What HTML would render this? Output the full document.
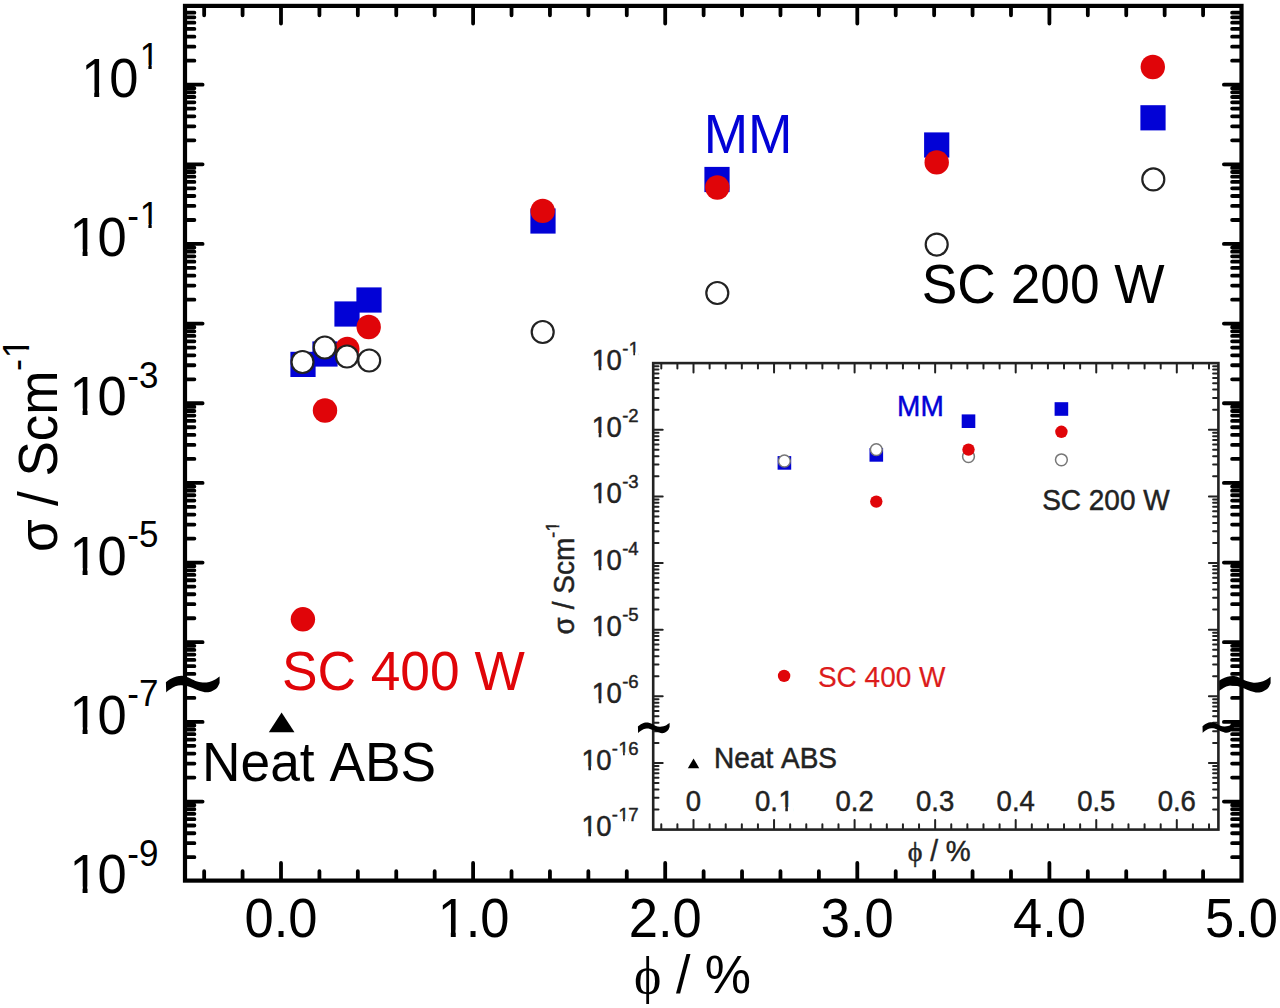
<!DOCTYPE html>
<html><head><meta charset="utf-8"><style>
html,body{margin:0;padding:0;background:#fff;}
body{width:1280px;height:1008px;overflow:hidden;}
svg{display:block;}
</style></head><body>
<svg width="1280" height="1008" viewBox="0 0 1280 1008">
<rect width="1280" height="1008" fill="#fff"/>
<rect x="185.0" y="5.9" width="1056.5" height="874.7" fill="none" stroke="#000" stroke-width="4.2"/>
<path d="M186.1,857.21H194.40M1240.4,857.21H1232.10M186.1,843.18H194.40M1240.4,843.18H1232.10M186.1,833.23H194.40M1240.4,833.23H1232.10M186.1,825.51H194.40M1240.4,825.51H1232.10M186.1,819.20H194.40M1240.4,819.20H1232.10M186.1,813.87H194.40M1240.4,813.87H1232.10M186.1,809.25H194.40M1240.4,809.25H1232.10M186.1,805.18H194.40M1240.4,805.18H1232.10M186.1,801.53H202.60M1240.4,801.53H1223.90M186.1,777.55H194.40M1240.4,777.55H1232.10M186.1,763.53H194.40M1240.4,763.53H1232.10M186.1,753.58H194.40M1240.4,753.58H1232.10M186.1,745.86H194.40M1240.4,745.86H1232.10M186.1,739.55H194.40M1240.4,739.55H1232.10M186.1,734.22H194.40M1240.4,734.22H1232.10M186.1,729.60H194.40M1240.4,729.60H1232.10M186.1,725.52H194.40M1240.4,725.52H1232.10M186.1,721.88H202.60M1240.4,721.88H1223.90M186.1,697.90H194.40M1240.4,697.90H1232.10M186.1,683.87H194.40M1240.4,683.87H1232.10M186.1,673.92H194.40M1240.4,673.92H1232.10M186.1,666.20H194.40M1240.4,666.20H1232.10M186.1,659.90H194.40M1240.4,659.90H1232.10M186.1,654.56H194.40M1240.4,654.56H1232.10M186.1,649.94H194.40M1240.4,649.94H1232.10M186.1,645.87H194.40M1240.4,645.87H1232.10M186.1,642.22H202.60M1240.4,642.22H1223.90M186.1,618.25H194.40M1240.4,618.25H1232.10M186.1,604.22H194.40M1240.4,604.22H1232.10M186.1,594.27H194.40M1240.4,594.27H1232.10M186.1,586.55H194.40M1240.4,586.55H1232.10M186.1,580.24H194.40M1240.4,580.24H1232.10M186.1,574.91H194.40M1240.4,574.91H1232.10M186.1,570.29H194.40M1240.4,570.29H1232.10M186.1,566.21H194.40M1240.4,566.21H1232.10M186.1,562.57H202.60M1240.4,562.57H1223.90M186.1,538.59H194.40M1240.4,538.59H1232.10M186.1,524.57H194.40M1240.4,524.57H1232.10M186.1,514.61H194.40M1240.4,514.61H1232.10M186.1,506.89H194.40M1240.4,506.89H1232.10M186.1,500.59H194.40M1240.4,500.59H1232.10M186.1,495.25H194.40M1240.4,495.25H1232.10M186.1,490.64H194.40M1240.4,490.64H1232.10M186.1,486.56H194.40M1240.4,486.56H1232.10M186.1,482.92H202.60M1240.4,482.92H1223.90M186.1,458.94H194.40M1240.4,458.94H1232.10M186.1,444.91H194.40M1240.4,444.91H1232.10M186.1,434.96H194.40M1240.4,434.96H1232.10M186.1,427.24H194.40M1240.4,427.24H1232.10M186.1,420.93H194.40M1240.4,420.93H1232.10M186.1,415.60H194.40M1240.4,415.60H1232.10M186.1,410.98H194.40M1240.4,410.98H1232.10M186.1,406.91H194.40M1240.4,406.91H1232.10M186.1,403.26H202.60M1240.4,403.26H1223.90M186.1,379.28H194.40M1240.4,379.28H1232.10M186.1,365.26H194.40M1240.4,365.26H1232.10M186.1,355.31H194.40M1240.4,355.31H1232.10M186.1,347.59H194.40M1240.4,347.59H1232.10M186.1,341.28H194.40M1240.4,341.28H1232.10M186.1,335.95H194.40M1240.4,335.95H1232.10M186.1,331.33H194.40M1240.4,331.33H1232.10M186.1,327.25H194.40M1240.4,327.25H1232.10M186.1,323.61H202.60M1240.4,323.61H1223.90M186.1,299.63H194.40M1240.4,299.63H1232.10M186.1,285.60H194.40M1240.4,285.60H1232.10M186.1,275.65H194.40M1240.4,275.65H1232.10M186.1,267.93H194.40M1240.4,267.93H1232.10M186.1,261.63H194.40M1240.4,261.63H1232.10M186.1,256.29H194.40M1240.4,256.29H1232.10M186.1,251.67H194.40M1240.4,251.67H1232.10M186.1,247.60H194.40M1240.4,247.60H1232.10M186.1,243.95H202.60M1240.4,243.95H1223.90M186.1,219.98H194.40M1240.4,219.98H1232.10M186.1,205.95H194.40M1240.4,205.95H1232.10M186.1,196.00H194.40M1240.4,196.00H1232.10M186.1,188.28H194.40M1240.4,188.28H1232.10M186.1,181.97H194.40M1240.4,181.97H1232.10M186.1,176.64H194.40M1240.4,176.64H1232.10M186.1,172.02H194.40M1240.4,172.02H1232.10M186.1,167.94H194.40M1240.4,167.94H1232.10M186.1,164.30H202.60M1240.4,164.30H1223.90M186.1,140.32H194.40M1240.4,140.32H1232.10M186.1,126.30H194.40M1240.4,126.30H1232.10M186.1,116.34H194.40M1240.4,116.34H1232.10M186.1,108.62H194.40M1240.4,108.62H1232.10M186.1,102.32H194.40M1240.4,102.32H1232.10M186.1,96.98H194.40M1240.4,96.98H1232.10M186.1,92.37H194.40M1240.4,92.37H1232.10M186.1,88.29H194.40M1240.4,88.29H1232.10M186.1,84.65H202.60M1240.4,84.65H1223.90M186.1,60.67H194.40M1240.4,60.67H1232.10M186.1,46.64H194.40M1240.4,46.64H1232.10M186.1,36.69H194.40M1240.4,36.69H1232.10M186.1,28.97H194.40M1240.4,28.97H1232.10M186.1,22.66H194.40M1240.4,22.66H1232.10M186.1,17.33H194.40M1240.4,17.33H1232.10M186.1,12.71H194.40M1240.4,12.71H1232.10M204.16,879.5V871.20M204.16,7.0V15.30M242.58,879.5V871.20M242.58,7.0V15.30M281.00,879.5V863.00M281.00,7.0V23.50M319.42,879.5V871.20M319.42,7.0V15.30M357.84,879.5V871.20M357.84,7.0V15.30M396.26,879.5V871.20M396.26,7.0V15.30M434.68,879.5V871.20M434.68,7.0V15.30M473.10,879.5V863.00M473.10,7.0V23.50M511.52,879.5V871.20M511.52,7.0V15.30M549.94,879.5V871.20M549.94,7.0V15.30M588.36,879.5V871.20M588.36,7.0V15.30M626.78,879.5V871.20M626.78,7.0V15.30M665.20,879.5V863.00M665.20,7.0V23.50M703.62,879.5V871.20M703.62,7.0V15.30M742.04,879.5V871.20M742.04,7.0V15.30M780.46,879.5V871.20M780.46,7.0V15.30M818.88,879.5V871.20M818.88,7.0V15.30M857.30,879.5V863.00M857.30,7.0V23.50M895.72,879.5V871.20M895.72,7.0V15.30M934.14,879.5V871.20M934.14,7.0V15.30M972.56,879.5V871.20M972.56,7.0V15.30M1010.98,879.5V871.20M1010.98,7.0V15.30M1049.40,879.5V863.00M1049.40,7.0V23.50M1087.82,879.5V871.20M1087.82,7.0V15.30M1126.24,879.5V871.20M1126.24,7.0V15.30M1164.66,879.5V871.20M1164.66,7.0V15.30M1203.08,879.5V871.20M1203.08,7.0V15.30" stroke="#000" stroke-width="3.8" stroke-linecap="round" fill="none"/>
<g fill="#000" transform="translate(158.40,96.65)"><text xml:space="preserve" transform="translate(0,0.00) scale(1,1.04)" font-family="&quot;Liberation Sans&quot;, sans-serif" font-size="52.5" x="-77.21 -49.16" y="0">10</text><path d="M60,-150H509V250H60ZM702,-150H1120V250H702Z" fill="#fff" stroke="none" transform="translate(-77.21,0.00) scale(0.02563,-0.02666)"/><text xml:space="preserve" transform="translate(0,-27.50) scale(1,1.04)" font-family="&quot;Liberation Sans&quot;, sans-serif" font-size="35" x="-18.70" y="0">1</text><path d="M60,-150H509V250H60ZM702,-150H1120V250H702Z" fill="#fff" stroke="none" transform="translate(-18.70,-27.50) scale(0.01709,-0.01777)"/></g>
<g fill="#000" transform="translate(158.40,255.95)"><text xml:space="preserve" transform="translate(0,0.00) scale(1,1.04)" font-family="&quot;Liberation Sans&quot;, sans-serif" font-size="52.5" x="-88.86 -60.82" y="0">10</text><path d="M60,-150H509V250H60ZM702,-150H1120V250H702Z" fill="#fff" stroke="none" transform="translate(-88.86,0.00) scale(0.02563,-0.02666)"/><text xml:space="preserve" transform="translate(0,-27.50) scale(1,1.04)" font-family="&quot;Liberation Sans&quot;, sans-serif" font-size="35" x="-31.12 -18.70" y="0">-1</text><path d="M60,-150H509V250H60ZM702,-150H1120V250H702Z" fill="#fff" stroke="none" transform="translate(-18.70,-27.50) scale(0.01709,-0.01777)"/></g>
<g fill="#000" transform="translate(158.40,415.26)"><text xml:space="preserve" transform="translate(0,0.00) scale(1,1.04)" font-family="&quot;Liberation Sans&quot;, sans-serif" font-size="52.5" x="-88.86 -60.82" y="0">10</text><path d="M60,-150H509V250H60ZM702,-150H1120V250H702Z" fill="#fff" stroke="none" transform="translate(-88.86,0.00) scale(0.02563,-0.02666)"/><text xml:space="preserve" transform="translate(0,-27.50) scale(1,1.04)" font-family="&quot;Liberation Sans&quot;, sans-serif" font-size="35" x="-31.12 -19.47" y="0">-3</text></g>
<g fill="#000" transform="translate(158.40,574.57)"><text xml:space="preserve" transform="translate(0,0.00) scale(1,1.04)" font-family="&quot;Liberation Sans&quot;, sans-serif" font-size="52.5" x="-88.86 -60.82" y="0">10</text><path d="M60,-150H509V250H60ZM702,-150H1120V250H702Z" fill="#fff" stroke="none" transform="translate(-88.86,0.00) scale(0.02563,-0.02666)"/><text xml:space="preserve" transform="translate(0,-27.50) scale(1,1.04)" font-family="&quot;Liberation Sans&quot;, sans-serif" font-size="35" x="-31.12 -19.47" y="0">-5</text></g>
<g fill="#000" transform="translate(158.40,733.88)"><text xml:space="preserve" transform="translate(0,0.00) scale(1,1.04)" font-family="&quot;Liberation Sans&quot;, sans-serif" font-size="52.5" x="-88.86 -60.82" y="0">10</text><path d="M60,-150H509V250H60ZM702,-150H1120V250H702Z" fill="#fff" stroke="none" transform="translate(-88.86,0.00) scale(0.02563,-0.02666)"/><text xml:space="preserve" transform="translate(0,-27.50) scale(1,1.04)" font-family="&quot;Liberation Sans&quot;, sans-serif" font-size="35" x="-31.12 -19.47" y="0">-7</text></g>
<g fill="#000" transform="translate(158.40,893.19)"><text xml:space="preserve" transform="translate(0,0.00) scale(1,1.04)" font-family="&quot;Liberation Sans&quot;, sans-serif" font-size="52.5" x="-88.86 -60.82" y="0">10</text><path d="M60,-150H509V250H60ZM702,-150H1120V250H702Z" fill="#fff" stroke="none" transform="translate(-88.86,0.00) scale(0.02563,-0.02666)"/><text xml:space="preserve" transform="translate(0,-27.50) scale(1,1.04)" font-family="&quot;Liberation Sans&quot;, sans-serif" font-size="35" x="-31.12 -19.47" y="0">-9</text></g>
<g fill="#000" transform="translate(281.00,936.50)"><text xml:space="preserve" transform="translate(0,0.00) scale(1,1.04)" font-family="&quot;Liberation Sans&quot;, sans-serif" font-size="52.5" x="-36.49 -7.29 7.29" y="0">0.0</text></g>
<g fill="#000" transform="translate(473.10,936.50)"><text xml:space="preserve" transform="translate(0,0.00) scale(1,1.04)" font-family="&quot;Liberation Sans&quot;, sans-serif" font-size="52.5" x="-35.34 -7.29 7.29" y="0">1.0</text><path d="M60,-150H509V250H60ZM702,-150H1120V250H702Z" fill="#fff" stroke="none" transform="translate(-35.34,0.00) scale(0.02563,-0.02666)"/></g>
<g fill="#000" transform="translate(665.20,936.50)"><text xml:space="preserve" transform="translate(0,0.00) scale(1,1.04)" font-family="&quot;Liberation Sans&quot;, sans-serif" font-size="52.5" x="-36.49 -7.29 7.29" y="0">2.0</text></g>
<g fill="#000" transform="translate(857.30,936.50)"><text xml:space="preserve" transform="translate(0,0.00) scale(1,1.04)" font-family="&quot;Liberation Sans&quot;, sans-serif" font-size="52.5" x="-36.49 -7.29 7.29" y="0">3.0</text></g>
<g fill="#000" transform="translate(1049.40,936.50)"><text xml:space="preserve" transform="translate(0,0.00) scale(1,1.04)" font-family="&quot;Liberation Sans&quot;, sans-serif" font-size="52.5" x="-36.49 -7.29 7.29" y="0">4.0</text></g>
<g fill="#000" transform="translate(1241.50,936.50)"><text xml:space="preserve" transform="translate(0,0.00) scale(1,1.04)" font-family="&quot;Liberation Sans&quot;, sans-serif" font-size="52.5" x="-36.49 -7.29 7.29" y="0">5.0</text></g>
<g fill="#000" transform="translate(634.10,993.20)"><text xml:space="preserve" transform="translate(0,0.00) scale(1,1.0)" font-family="&quot;Liberation Serif&quot;, serif" font-size="52" x="0.00" y="0">ϕ</text><text xml:space="preserve" transform="translate(0,0.00) scale(1,1.04)" font-family="&quot;Liberation Sans&quot;, sans-serif" font-size="52" x="27.37 41.82 56.27 70.71" y="0"> / %</text></g>
<g fill="#000" transform="translate(56.50,552.00) rotate(-90)"><text xml:space="preserve" transform="translate(0,0.00) scale(1,1.04)" font-family="&quot;Liberation Sans&quot;, sans-serif" font-size="53" x="0.00" y="0">σ</text><text xml:space="preserve" transform="translate(0,0.00) scale(1,1.04)" font-family="&quot;Liberation Sans&quot;, sans-serif" font-size="53" x="31.21 45.94 60.66 75.39 110.74 137.24" y="0"> / Scm</text><text xml:space="preserve" transform="translate(0,-27.50) scale(1,1.04)" font-family="&quot;Liberation Sans&quot;, sans-serif" font-size="36" x="180.89 193.67" y="0">-1</text><path d="M60,-150H509V250H60ZM702,-150H1120V250H702Z" fill="#fff" stroke="none" transform="translate(193.67,-27.50) scale(0.01758,-0.01828)"/></g>
<rect x="290.4" y="351.8" width="25.2" height="25.2" fill="#0202d6"/>
<rect x="312.4" y="341.4" width="25.2" height="25.2" fill="#0202d6"/>
<rect x="334.4" y="301.4" width="25.2" height="25.2" fill="#0202d6"/>
<rect x="356.4" y="287.4" width="25.2" height="25.2" fill="#0202d6"/>
<rect x="530.4" y="208.4" width="25.2" height="25.2" fill="#0202d6"/>
<rect x="704.4" y="166.9" width="25.2" height="25.2" fill="#0202d6"/>
<rect x="924.1" y="132.4" width="25.2" height="25.2" fill="#0202d6"/>
<rect x="1140.4" y="105.2" width="25.2" height="25.2" fill="#0202d6"/>
<circle cx="302.9" cy="619.3" r="12.2" fill="#e00509"/>
<circle cx="325" cy="410.5" r="12.2" fill="#e00509"/>
<circle cx="347.3" cy="349" r="12.2" fill="#e00509"/>
<circle cx="368.7" cy="327" r="12.2" fill="#e00509"/>
<circle cx="542.7" cy="210.9" r="12.2" fill="#e00509"/>
<circle cx="717.3" cy="187.5" r="12.2" fill="#e00509"/>
<circle cx="936.7" cy="162.4" r="12.2" fill="#e00509"/>
<circle cx="1152.8" cy="67" r="12.2" fill="#e00509"/>
<circle cx="302.5" cy="362" r="11.0" fill="#fff" stroke="#222" stroke-width="2.2"/>
<circle cx="324.8" cy="347.5" r="11.0" fill="#fff" stroke="#222" stroke-width="2.2"/>
<circle cx="347" cy="356.5" r="11.0" fill="#fff" stroke="#222" stroke-width="2.2"/>
<circle cx="369.2" cy="360.5" r="11.0" fill="#fff" stroke="#222" stroke-width="2.2"/>
<circle cx="542.7" cy="332" r="11.0" fill="#fff" stroke="#222" stroke-width="2.2"/>
<circle cx="717.3" cy="293" r="11.0" fill="#fff" stroke="#222" stroke-width="2.2"/>
<circle cx="936.7" cy="244.6" r="11.0" fill="#fff" stroke="#222" stroke-width="2.2"/>
<circle cx="1153.3" cy="179.4" r="11.0" fill="#fff" stroke="#222" stroke-width="2.2"/>
<path d="M268.8,732.2L281.6,712.5L294.5,732.2Z" fill="#000"/>
<g fill="#0202d6" transform="translate(703.63,153.00)"><text xml:space="preserve" transform="translate(0,0.00) scale(1,1.04)" font-family="&quot;Liberation Sans&quot;, sans-serif" font-size="53.3" x="0.00 44.40" y="0">MM</text></g>
<g fill="#000" transform="translate(921.78,302.80)"><text xml:space="preserve" transform="translate(0,0.00) scale(1,1.04)" font-family="&quot;Liberation Sans&quot;, sans-serif" font-size="53.3" x="0.00 35.55 74.04 88.85 118.49 148.14 177.78 192.59" y="0">SC 200 W</text></g>
<g fill="#e00509" transform="translate(281.88,690.30)"><text xml:space="preserve" transform="translate(0,0.00) scale(1,1.04)" font-family="&quot;Liberation Sans&quot;, sans-serif" font-size="53.3" x="0.00 35.55 74.04 88.85 118.49 148.14 177.78 192.59" y="0">SC 400 W</text></g>
<g fill="#000" transform="translate(202.03,781.20)"><text xml:space="preserve" transform="translate(0,0.00) scale(1,1.04)" font-family="&quot;Liberation Sans&quot;, sans-serif" font-size="53.3" x="0.00 38.49 68.13 97.78 112.59 127.39 162.94 198.50" y="0">Neat ABS</text></g>
<path transform="translate(193.0,684.1) scale(1.0,1.0)" d="M-27.10,-1.90C-26.27,-2.47 -23.85,-4.35 -22.10,-5.30C-20.35,-6.25 -18.62,-7.12 -16.60,-7.60C-14.58,-8.08 -12.00,-8.38 -10.00,-8.20C-8.00,-8.02 -6.68,-7.33 -4.60,-6.50C-2.52,-5.67 0.13,-4.02 2.50,-3.20C4.87,-2.38 7.32,-1.77 9.60,-1.60C11.88,-1.43 14.18,-1.75 16.20,-2.20C18.22,-2.65 19.97,-3.40 21.70,-4.30C23.43,-5.20 25.78,-7.05 26.60,-7.60L26.60,-1.10C26.15,-0.27 25.18,2.53 23.90,3.90C22.62,5.27 20.63,6.38 18.90,7.10C17.17,7.82 15.58,8.28 13.50,8.20C11.42,8.12 8.68,7.32 6.40,6.60C4.12,5.88 2.00,4.72 -0.20,3.90C-2.40,3.08 -4.80,2.17 -6.80,1.70C-8.80,1.23 -10.38,1.02 -12.20,1.10C-14.02,1.18 -15.87,1.47 -17.70,2.20C-19.53,2.93 -21.68,4.48 -23.20,5.50C-24.72,6.52 -26.20,7.83 -26.80,8.30Z" fill="#000"/>
<path transform="translate(1244.0,684.3) scale(1.0,1.0)" d="M-27.10,-1.90C-26.27,-2.47 -23.85,-4.35 -22.10,-5.30C-20.35,-6.25 -18.62,-7.12 -16.60,-7.60C-14.58,-8.08 -12.00,-8.38 -10.00,-8.20C-8.00,-8.02 -6.68,-7.33 -4.60,-6.50C-2.52,-5.67 0.13,-4.02 2.50,-3.20C4.87,-2.38 7.32,-1.77 9.60,-1.60C11.88,-1.43 14.18,-1.75 16.20,-2.20C18.22,-2.65 19.97,-3.40 21.70,-4.30C23.43,-5.20 25.78,-7.05 26.60,-7.60L26.60,-1.10C26.15,-0.27 25.18,2.53 23.90,3.90C22.62,5.27 20.63,6.38 18.90,7.10C17.17,7.82 15.58,8.28 13.50,8.20C11.42,8.12 8.68,7.32 6.40,6.60C4.12,5.88 2.00,4.72 -0.20,3.90C-2.40,3.08 -4.80,2.17 -6.80,1.70C-8.80,1.23 -10.38,1.02 -12.20,1.10C-14.02,1.18 -15.87,1.47 -17.70,2.20C-19.53,2.93 -21.68,4.48 -23.20,5.50C-24.72,6.52 -26.20,7.83 -26.80,8.30Z" fill="#000"/>
<rect x="653.2" y="363.1" width="565.2" height="466.5" fill="#fff" stroke="#222" stroke-width="2.6"/>
<path d="M654.0,409.68H658.50M1217.6000000000001,409.68H1213.10M654.0,397.94H658.50M1217.6000000000001,397.94H1213.10M654.0,389.62H658.50M1217.6000000000001,389.62H1213.10M654.0,383.16H658.50M1217.6000000000001,383.16H1213.10M654.0,377.88H658.50M1217.6000000000001,377.88H1213.10M654.0,373.42H658.50M1217.6000000000001,373.42H1213.10M654.0,369.56H658.50M1217.6000000000001,369.56H1213.10M654.0,366.15H658.50M1217.6000000000001,366.15H1213.10M654.0,429.74H662.70M1217.6000000000001,429.74H1208.90M654.0,476.32H658.50M1217.6000000000001,476.32H1213.10M654.0,464.58H658.50M1217.6000000000001,464.58H1213.10M654.0,456.26H658.50M1217.6000000000001,456.26H1213.10M654.0,449.80H658.50M1217.6000000000001,449.80H1213.10M654.0,444.52H658.50M1217.6000000000001,444.52H1213.10M654.0,440.06H658.50M1217.6000000000001,440.06H1213.10M654.0,436.20H658.50M1217.6000000000001,436.20H1213.10M654.0,432.79H658.50M1217.6000000000001,432.79H1213.10M654.0,496.38H662.70M1217.6000000000001,496.38H1208.90M654.0,542.96H658.50M1217.6000000000001,542.96H1213.10M654.0,531.22H658.50M1217.6000000000001,531.22H1213.10M654.0,522.90H658.50M1217.6000000000001,522.90H1213.10M654.0,516.44H658.50M1217.6000000000001,516.44H1213.10M654.0,511.16H658.50M1217.6000000000001,511.16H1213.10M654.0,506.70H658.50M1217.6000000000001,506.70H1213.10M654.0,502.84H658.50M1217.6000000000001,502.84H1213.10M654.0,499.43H658.50M1217.6000000000001,499.43H1213.10M654.0,563.02H662.70M1217.6000000000001,563.02H1208.90M654.0,609.60H658.50M1217.6000000000001,609.60H1213.10M654.0,597.86H658.50M1217.6000000000001,597.86H1213.10M654.0,589.54H658.50M1217.6000000000001,589.54H1213.10M654.0,583.08H658.50M1217.6000000000001,583.08H1213.10M654.0,577.80H658.50M1217.6000000000001,577.80H1213.10M654.0,573.34H658.50M1217.6000000000001,573.34H1213.10M654.0,569.48H658.50M1217.6000000000001,569.48H1213.10M654.0,566.07H658.50M1217.6000000000001,566.07H1213.10M654.0,629.66H662.70M1217.6000000000001,629.66H1208.90M654.0,676.24H658.50M1217.6000000000001,676.24H1213.10M654.0,664.50H658.50M1217.6000000000001,664.50H1213.10M654.0,656.18H658.50M1217.6000000000001,656.18H1213.10M654.0,649.72H658.50M1217.6000000000001,649.72H1213.10M654.0,644.44H658.50M1217.6000000000001,644.44H1213.10M654.0,639.98H658.50M1217.6000000000001,639.98H1213.10M654.0,636.12H658.50M1217.6000000000001,636.12H1213.10M654.0,632.71H658.50M1217.6000000000001,632.71H1213.10M654.0,696.30H662.70M1217.6000000000001,696.30H1208.90M654.0,742.88H658.50M1217.6000000000001,742.88H1213.10M654.0,731.14H658.50M1217.6000000000001,731.14H1213.10M654.0,722.82H658.50M1217.6000000000001,722.82H1213.10M654.0,716.36H658.50M1217.6000000000001,716.36H1213.10M654.0,711.08H658.50M1217.6000000000001,711.08H1213.10M654.0,706.62H658.50M1217.6000000000001,706.62H1213.10M654.0,702.76H658.50M1217.6000000000001,702.76H1213.10M654.0,699.35H658.50M1217.6000000000001,699.35H1213.10M654.0,762.94H662.70M1217.6000000000001,762.94H1208.90M654.0,809.52H658.50M1217.6000000000001,809.52H1213.10M654.0,797.78H658.50M1217.6000000000001,797.78H1213.10M654.0,789.46H658.50M1217.6000000000001,789.46H1213.10M654.0,783.00H658.50M1217.6000000000001,783.00H1213.10M654.0,777.72H658.50M1217.6000000000001,777.72H1213.10M654.0,773.26H658.50M1217.6000000000001,773.26H1213.10M654.0,769.40H658.50M1217.6000000000001,769.40H1213.10M654.0,765.99H658.50M1217.6000000000001,765.99H1213.10M661.28,828.8000000000001V824.30M661.28,363.90000000000003V368.40M677.39,828.8000000000001V824.30M677.39,363.90000000000003V368.40M693.50,828.8000000000001V820.10M693.50,363.90000000000003V372.60M709.61,828.8000000000001V824.30M709.61,363.90000000000003V368.40M725.72,828.8000000000001V824.30M725.72,363.90000000000003V368.40M741.83,828.8000000000001V824.30M741.83,363.90000000000003V368.40M757.94,828.8000000000001V824.30M757.94,363.90000000000003V368.40M774.05,828.8000000000001V820.10M774.05,363.90000000000003V372.60M790.16,828.8000000000001V824.30M790.16,363.90000000000003V368.40M806.27,828.8000000000001V824.30M806.27,363.90000000000003V368.40M822.38,828.8000000000001V824.30M822.38,363.90000000000003V368.40M838.49,828.8000000000001V824.30M838.49,363.90000000000003V368.40M854.60,828.8000000000001V820.10M854.60,363.90000000000003V372.60M870.71,828.8000000000001V824.30M870.71,363.90000000000003V368.40M886.82,828.8000000000001V824.30M886.82,363.90000000000003V368.40M902.93,828.8000000000001V824.30M902.93,363.90000000000003V368.40M919.04,828.8000000000001V824.30M919.04,363.90000000000003V368.40M935.15,828.8000000000001V820.10M935.15,363.90000000000003V372.60M951.26,828.8000000000001V824.30M951.26,363.90000000000003V368.40M967.37,828.8000000000001V824.30M967.37,363.90000000000003V368.40M983.48,828.8000000000001V824.30M983.48,363.90000000000003V368.40M999.59,828.8000000000001V824.30M999.59,363.90000000000003V368.40M1015.70,828.8000000000001V820.10M1015.70,363.90000000000003V372.60M1031.81,828.8000000000001V824.30M1031.81,363.90000000000003V368.40M1047.92,828.8000000000001V824.30M1047.92,363.90000000000003V368.40M1064.03,828.8000000000001V824.30M1064.03,363.90000000000003V368.40M1080.14,828.8000000000001V824.30M1080.14,363.90000000000003V368.40M1096.25,828.8000000000001V820.10M1096.25,363.90000000000003V372.60M1112.36,828.8000000000001V824.30M1112.36,363.90000000000003V368.40M1128.47,828.8000000000001V824.30M1128.47,363.90000000000003V368.40M1144.58,828.8000000000001V824.30M1144.58,363.90000000000003V368.40M1160.69,828.8000000000001V824.30M1160.69,363.90000000000003V368.40M1176.80,828.8000000000001V820.10M1176.80,363.90000000000003V372.60M1192.91,828.8000000000001V824.30M1192.91,363.90000000000003V368.40M1209.02,828.8000000000001V824.30M1209.02,363.90000000000003V368.40" stroke="#222" stroke-width="2.0" stroke-linecap="round" fill="none"/>
<g fill="#222" stroke="#222" transform="translate(638.60,369.90)"><text xml:space="preserve" transform="translate(0,0.00) scale(1,1.04)" font-family="&quot;Liberation Sans&quot;, sans-serif" font-size="27.5" stroke-width="0.45" x="-46.73 -32.04" y="0">10</text><path d="M60,-150H509V250H60ZM702,-150H1120V250H702Z" fill="#fff" stroke="none" transform="translate(-46.73,0.00) scale(0.01343,-0.01396)"/><text xml:space="preserve" transform="translate(0,-15.00) scale(1,1.04)" font-family="&quot;Liberation Sans&quot;, sans-serif" font-size="18.5" stroke-width="0.45" x="-16.45 -9.88" y="0">-1</text><path d="M60,-150H509V250H60ZM702,-150H1120V250H702Z" fill="#fff" stroke="none" transform="translate(-9.88,-15.00) scale(0.00903,-0.00939)"/></g>
<g fill="#222" stroke="#222" transform="translate(638.60,436.54)"><text xml:space="preserve" transform="translate(0,0.00) scale(1,1.04)" font-family="&quot;Liberation Sans&quot;, sans-serif" font-size="27.5" stroke-width="0.45" x="-46.73 -32.04" y="0">10</text><path d="M60,-150H509V250H60ZM702,-150H1120V250H702Z" fill="#fff" stroke="none" transform="translate(-46.73,0.00) scale(0.01343,-0.01396)"/><text xml:space="preserve" transform="translate(0,-15.00) scale(1,1.04)" font-family="&quot;Liberation Sans&quot;, sans-serif" font-size="18.5" stroke-width="0.45" x="-16.45 -10.29" y="0">-2</text></g>
<g fill="#222" stroke="#222" transform="translate(638.60,503.18)"><text xml:space="preserve" transform="translate(0,0.00) scale(1,1.04)" font-family="&quot;Liberation Sans&quot;, sans-serif" font-size="27.5" stroke-width="0.45" x="-46.73 -32.04" y="0">10</text><path d="M60,-150H509V250H60ZM702,-150H1120V250H702Z" fill="#fff" stroke="none" transform="translate(-46.73,0.00) scale(0.01343,-0.01396)"/><text xml:space="preserve" transform="translate(0,-15.00) scale(1,1.04)" font-family="&quot;Liberation Sans&quot;, sans-serif" font-size="18.5" stroke-width="0.45" x="-16.45 -10.29" y="0">-3</text></g>
<g fill="#222" stroke="#222" transform="translate(638.60,569.82)"><text xml:space="preserve" transform="translate(0,0.00) scale(1,1.04)" font-family="&quot;Liberation Sans&quot;, sans-serif" font-size="27.5" stroke-width="0.45" x="-46.73 -32.04" y="0">10</text><path d="M60,-150H509V250H60ZM702,-150H1120V250H702Z" fill="#fff" stroke="none" transform="translate(-46.73,0.00) scale(0.01343,-0.01396)"/><text xml:space="preserve" transform="translate(0,-15.00) scale(1,1.04)" font-family="&quot;Liberation Sans&quot;, sans-serif" font-size="18.5" stroke-width="0.45" x="-16.45 -10.29" y="0">-4</text></g>
<g fill="#222" stroke="#222" transform="translate(638.60,636.46)"><text xml:space="preserve" transform="translate(0,0.00) scale(1,1.04)" font-family="&quot;Liberation Sans&quot;, sans-serif" font-size="27.5" stroke-width="0.45" x="-46.73 -32.04" y="0">10</text><path d="M60,-150H509V250H60ZM702,-150H1120V250H702Z" fill="#fff" stroke="none" transform="translate(-46.73,0.00) scale(0.01343,-0.01396)"/><text xml:space="preserve" transform="translate(0,-15.00) scale(1,1.04)" font-family="&quot;Liberation Sans&quot;, sans-serif" font-size="18.5" stroke-width="0.45" x="-16.45 -10.29" y="0">-5</text></g>
<g fill="#222" stroke="#222" transform="translate(638.60,703.10)"><text xml:space="preserve" transform="translate(0,0.00) scale(1,1.04)" font-family="&quot;Liberation Sans&quot;, sans-serif" font-size="27.5" stroke-width="0.45" x="-46.73 -32.04" y="0">10</text><path d="M60,-150H509V250H60ZM702,-150H1120V250H702Z" fill="#fff" stroke="none" transform="translate(-46.73,0.00) scale(0.01343,-0.01396)"/><text xml:space="preserve" transform="translate(0,-15.00) scale(1,1.04)" font-family="&quot;Liberation Sans&quot;, sans-serif" font-size="18.5" stroke-width="0.45" x="-16.45 -10.29" y="0">-6</text></g>
<g fill="#222" stroke="#222" transform="translate(638.60,769.74)"><text xml:space="preserve" transform="translate(0,0.00) scale(1,1.04)" font-family="&quot;Liberation Sans&quot;, sans-serif" font-size="27.5" stroke-width="0.45" x="-57.02 -42.33" y="0">10</text><path d="M60,-150H509V250H60ZM702,-150H1120V250H702Z" fill="#fff" stroke="none" transform="translate(-57.02,0.00) scale(0.01343,-0.01396)"/><text xml:space="preserve" transform="translate(0,-15.00) scale(1,1.04)" font-family="&quot;Liberation Sans&quot;, sans-serif" font-size="18.5" stroke-width="0.45" x="-26.74 -20.17 -10.29" y="0">-16</text><path d="M60,-150H509V250H60ZM702,-150H1120V250H702Z" fill="#fff" stroke="none" transform="translate(-20.17,-15.00) scale(0.00903,-0.00939)"/></g>
<g fill="#222" stroke="#222" transform="translate(638.60,836.38)"><text xml:space="preserve" transform="translate(0,0.00) scale(1,1.04)" font-family="&quot;Liberation Sans&quot;, sans-serif" font-size="27.5" stroke-width="0.45" x="-57.02 -42.33" y="0">10</text><path d="M60,-150H509V250H60ZM702,-150H1120V250H702Z" fill="#fff" stroke="none" transform="translate(-57.02,0.00) scale(0.01343,-0.01396)"/><text xml:space="preserve" transform="translate(0,-15.00) scale(1,1.04)" font-family="&quot;Liberation Sans&quot;, sans-serif" font-size="18.5" stroke-width="0.45" x="-26.74 -20.17 -10.29" y="0">-17</text><path d="M60,-150H509V250H60ZM702,-150H1120V250H702Z" fill="#fff" stroke="none" transform="translate(-20.17,-15.00) scale(0.00903,-0.00939)"/></g>
<g fill="#222" stroke="#222" transform="translate(693.50,810.60)"><text xml:space="preserve" transform="translate(0,0.00) scale(1,1.04)" font-family="&quot;Liberation Sans&quot;, sans-serif" font-size="27.5" stroke-width="0.45" x="-7.65" y="0">0</text></g>
<g fill="#222" stroke="#222" transform="translate(774.05,810.60)"><text xml:space="preserve" transform="translate(0,0.00) scale(1,1.04)" font-family="&quot;Liberation Sans&quot;, sans-serif" font-size="27.5" stroke-width="0.45" x="-19.11 -3.82 4.42" y="0">0.1</text><path d="M60,-150H509V250H60ZM702,-150H1120V250H702Z" fill="#fff" stroke="none" transform="translate(4.42,0.00) scale(0.01343,-0.01396)"/></g>
<g fill="#222" stroke="#222" transform="translate(854.60,810.60)"><text xml:space="preserve" transform="translate(0,0.00) scale(1,1.04)" font-family="&quot;Liberation Sans&quot;, sans-serif" font-size="27.5" stroke-width="0.45" x="-19.11 -3.82 3.82" y="0">0.2</text></g>
<g fill="#222" stroke="#222" transform="translate(935.15,810.60)"><text xml:space="preserve" transform="translate(0,0.00) scale(1,1.04)" font-family="&quot;Liberation Sans&quot;, sans-serif" font-size="27.5" stroke-width="0.45" x="-19.11 -3.82 3.82" y="0">0.3</text></g>
<g fill="#222" stroke="#222" transform="translate(1015.70,810.60)"><text xml:space="preserve" transform="translate(0,0.00) scale(1,1.04)" font-family="&quot;Liberation Sans&quot;, sans-serif" font-size="27.5" stroke-width="0.45" x="-19.11 -3.82 3.82" y="0">0.4</text></g>
<g fill="#222" stroke="#222" transform="translate(1096.25,810.60)"><text xml:space="preserve" transform="translate(0,0.00) scale(1,1.04)" font-family="&quot;Liberation Sans&quot;, sans-serif" font-size="27.5" stroke-width="0.45" x="-19.11 -3.82 3.82" y="0">0.5</text></g>
<g fill="#222" stroke="#222" transform="translate(1176.80,810.60)"><text xml:space="preserve" transform="translate(0,0.00) scale(1,1.04)" font-family="&quot;Liberation Sans&quot;, sans-serif" font-size="27.5" stroke-width="0.45" x="-19.11 -3.82 3.82" y="0">0.6</text></g>
<g fill="#222" stroke="#222" transform="translate(907.80,861.40)"><text xml:space="preserve" transform="translate(0,0.00) scale(1,1.0)" font-family="&quot;Liberation Serif&quot;, serif" font-size="28" stroke-width="0.45" x="0.00" y="0">ϕ</text><text xml:space="preserve" transform="translate(0,0.00) scale(1,1.04)" font-family="&quot;Liberation Sans&quot;, sans-serif" font-size="28" stroke-width="0.45" x="14.74 22.52 30.30 38.08" y="0"> / %</text></g>
<g fill="#222" stroke="#222" transform="translate(573.60,634.40) rotate(-90)"><text xml:space="preserve" transform="translate(0,0.00) scale(1,1.04)" font-family="&quot;Liberation Sans&quot;, sans-serif" font-size="28" stroke-width="0.45" x="0.00 17.28 25.06 32.84 40.62 59.29 73.29" y="0">σ / Scm</text><text xml:space="preserve" transform="translate(0,-15.00) scale(1,1.04)" font-family="&quot;Liberation Sans&quot;, sans-serif" font-size="17.5" stroke-width="0.45" x="96.62 102.83" y="0">-1</text><path d="M60,-150H509V250H60ZM702,-150H1120V250H702Z" fill="#fff" stroke="none" transform="translate(102.83,-15.00) scale(0.00854,-0.00889)"/></g>
<rect x="777.6" y="456.1" width="13.6" height="13.6" fill="#0202d6"/>
<rect x="869.5" y="448.1" width="13.6" height="13.6" fill="#0202d6"/>
<rect x="961.7" y="414.4" width="13.6" height="13.6" fill="#0202d6"/>
<rect x="1054.6" y="402.2" width="13.6" height="13.6" fill="#0202d6"/>
<circle cx="784.4" cy="461" r="5.9" fill="#fff" stroke="#777" stroke-width="1.5"/>
<circle cx="876.3" cy="449.6" r="5.9" fill="#fff" stroke="#777" stroke-width="1.5"/>
<circle cx="968.5" cy="456.5" r="5.9" fill="#fff" stroke="#777" stroke-width="1.5"/>
<circle cx="1061.4" cy="459.8" r="5.9" fill="#fff" stroke="#777" stroke-width="1.5"/>
<circle cx="784.1" cy="675.9" r="6.2" fill="#e00509"/>
<circle cx="876.3" cy="501.6" r="6.2" fill="#e00509"/>
<circle cx="968.5" cy="449.6" r="6.2" fill="#e00509"/>
<circle cx="1061.4" cy="431.8" r="6.2" fill="#e00509"/>
<path d="M687.8,768.2L693.6,758.4L699.2,768.2Z" fill="#000"/>
<g fill="#0202d6" stroke="#0202d6" transform="translate(897.10,416.00)"><text xml:space="preserve" transform="translate(0,0.00) scale(1,1.04)" font-family="&quot;Liberation Sans&quot;, sans-serif" font-size="28" stroke-width="0.45" x="0.00 23.32" y="0">MM</text></g>
<g fill="#222" stroke="#222" transform="translate(1042.13,510.00)"><text xml:space="preserve" transform="translate(0,0.00) scale(1,1.04)" font-family="&quot;Liberation Sans&quot;, sans-serif" font-size="28" stroke-width="0.45" x="0.00 18.68 38.90 46.68 62.25 77.82 93.39 101.17" y="0">SC 200 W</text></g>
<g fill="#dc1c1c" stroke="#dc1c1c" transform="translate(817.93,686.50)"><text xml:space="preserve" transform="translate(0,0.00) scale(1,1.04)" font-family="&quot;Liberation Sans&quot;, sans-serif" font-size="28" stroke-width="0.2" x="0.00 18.68 38.90 46.68 62.25 77.82 93.39 101.17" y="0">SC 400 W</text></g>
<g fill="#222" stroke="#222" transform="translate(714.10,768.00)"><text xml:space="preserve" transform="translate(0,0.00) scale(1,1.04)" font-family="&quot;Liberation Sans&quot;, sans-serif" font-size="28" stroke-width="0.45" x="0.00 20.22 35.79 51.37 59.14 66.92 85.60 104.28" y="0">Neat ABS</text></g>
<path transform="translate(653.9,727.8) scale(0.59,0.65)" d="M-27.10,-1.90C-26.27,-2.47 -23.85,-4.35 -22.10,-5.30C-20.35,-6.25 -18.62,-7.12 -16.60,-7.60C-14.58,-8.08 -12.00,-8.38 -10.00,-8.20C-8.00,-8.02 -6.68,-7.33 -4.60,-6.50C-2.52,-5.67 0.13,-4.02 2.50,-3.20C4.87,-2.38 7.32,-1.77 9.60,-1.60C11.88,-1.43 14.18,-1.75 16.20,-2.20C18.22,-2.65 19.97,-3.40 21.70,-4.30C23.43,-5.20 25.78,-7.05 26.60,-7.60L26.60,-1.10C26.15,-0.27 25.18,2.53 23.90,3.90C22.62,5.27 20.63,6.38 18.90,7.10C17.17,7.82 15.58,8.28 13.50,8.20C11.42,8.12 8.68,7.32 6.40,6.60C4.12,5.88 2.00,4.72 -0.20,3.90C-2.40,3.08 -4.80,2.17 -6.80,1.70C-8.80,1.23 -10.38,1.02 -12.20,1.10C-14.02,1.18 -15.87,1.47 -17.70,2.20C-19.53,2.93 -21.68,4.48 -23.20,5.50C-24.72,6.52 -26.20,7.83 -26.80,8.30Z" fill="#000"/>
<path transform="translate(1218.5,727.5) scale(0.59,0.65)" d="M-27.10,-1.90C-26.27,-2.47 -23.85,-4.35 -22.10,-5.30C-20.35,-6.25 -18.62,-7.12 -16.60,-7.60C-14.58,-8.08 -12.00,-8.38 -10.00,-8.20C-8.00,-8.02 -6.68,-7.33 -4.60,-6.50C-2.52,-5.67 0.13,-4.02 2.50,-3.20C4.87,-2.38 7.32,-1.77 9.60,-1.60C11.88,-1.43 14.18,-1.75 16.20,-2.20C18.22,-2.65 19.97,-3.40 21.70,-4.30C23.43,-5.20 25.78,-7.05 26.60,-7.60L26.60,-1.10C26.15,-0.27 25.18,2.53 23.90,3.90C22.62,5.27 20.63,6.38 18.90,7.10C17.17,7.82 15.58,8.28 13.50,8.20C11.42,8.12 8.68,7.32 6.40,6.60C4.12,5.88 2.00,4.72 -0.20,3.90C-2.40,3.08 -4.80,2.17 -6.80,1.70C-8.80,1.23 -10.38,1.02 -12.20,1.10C-14.02,1.18 -15.87,1.47 -17.70,2.20C-19.53,2.93 -21.68,4.48 -23.20,5.50C-24.72,6.52 -26.20,7.83 -26.80,8.30Z" fill="#000"/>
</svg>
</body></html>
